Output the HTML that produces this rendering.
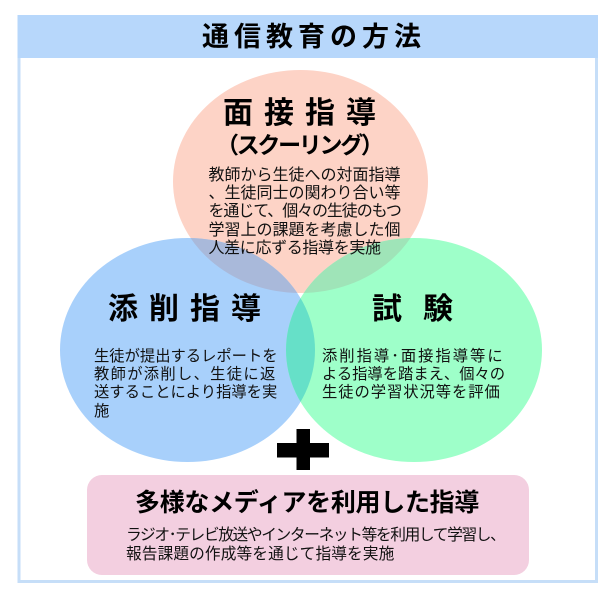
<!DOCTYPE html>
<html lang="ja">
<head>
<meta charset="utf-8">
<style>
html,body{margin:0;padding:0;background:#fff;}
#p{position:relative;width:610px;height:596px;overflow:hidden;background:#fff;font-family:"Liberation Sans","Noto Sans CJK JP",sans-serif;color:#111;filter:blur(0.3px);}
svg{position:absolute;left:0;top:0;}
.t{position:absolute;white-space:nowrap;line-height:1;}
.b{font-weight:700;color:#000;}
.s{font-size:16px;letter-spacing:0;}
.g{font-size:15.3px;}
.k{font-size:15.7px;}
</style>
</head>
<body>
<div id="p">
<svg width="610" height="596" viewBox="0 0 610 596">
<defs>
<clipPath id="ct"><ellipse cx="300.500" cy="181.500" rx="127.500" ry="111.500"/></clipPath>
<clipPath id="cb"><ellipse cx="187.500" cy="350" rx="127.500" ry="112"/></clipPath>
</defs>
<rect x="19" y="16.500" width="577.500" height="565" fill="#fff" stroke="#c6def8" stroke-width="3"/>
<rect x="17.500" y="15" width="580.500" height="43" fill="#b7d7fb"/>
<ellipse cx="300.500" cy="181.500" rx="127.500" ry="111.500" fill="#fdd3c6"/>
<ellipse cx="187.500" cy="350" rx="127.500" ry="112" fill="#a8d0fb"/>
<ellipse cx="414" cy="350" rx="128" ry="112" fill="#9effc9"/>
<ellipse cx="187.500" cy="350" rx="127.500" ry="112" fill="#a9b9da" clip-path="url(#ct)"/>
<ellipse cx="414" cy="350" rx="128" ry="112" fill="#9fe4b8" clip-path="url(#ct)"/>
<ellipse cx="414" cy="350" rx="128" ry="112" fill="#66e0c8" clip-path="url(#cb)"/>
<rect x="277" y="443" width="52" height="14.500" fill="#000"/>
<rect x="296.500" y="429" width="13.500" height="41" fill="#000"/>
<rect x="87" y="475" width="442" height="100" rx="15" ry="15" fill="#f3cfe0"/>
</svg>

<div class="t b" style="left:202px;top:24px;font-size:27px;letter-spacing:5px;">通信教育の方法</div>

<div class="t b" style="left:223px;top:99px;font-size:30px;letter-spacing:11px;">面接指導</div>
<div class="t b" style="left:216px;top:134px;font-size:23px;letter-spacing:-2.300px;">（スクーリング）</div>
<div class="t s" style="left:208.500px;top:168px;">教師から生徒への対面指導</div>
<div class="t s" style="left:208.500px;top:186px;">、生徒同士の関わり合い等</div>
<div class="t s" style="left:208.500px;top:204px;letter-spacing:-1.100px;">を通じて、個々の生徒のもつ</div>
<div class="t s" style="left:208.500px;top:223px;">学習上の課題を考慮した個</div>
<div class="t s" style="left:208.500px;top:241px;letter-spacing:-0.350px;">人差に応ずる指導を実施</div>

<div class="t b" style="left:108px;top:295px;font-size:30px;letter-spacing:11px;">添削指導</div>
<div class="t g" style="left:94px;top:349px;">生徒が提出するレポートを</div>
<div class="t g" style="left:94px;top:367px;letter-spacing:1.300px;">教師が添削し、生徒に返</div>
<div class="t g" style="left:94px;top:385px;">送することにより指導を実</div>
<div class="t g" style="left:94px;top:404px;">施</div>

<div class="t b" style="left:372px;top:295px;font-size:30px;letter-spacing:21px;">試験</div>
<div class="t g" style="left:322px;top:349px;letter-spacing:2px;">添削指導･面接指導等に</div>
<div class="t g" style="left:322px;top:367px;">よる指導を踏まえ、個々の</div>
<div class="t g" style="left:322px;top:385px;letter-spacing:0.950px;">生徒の学習状況等を評価</div>

<div class="t b" style="left:135px;top:491px;font-size:25px;letter-spacing:-0.300px;">多様なメディアを利用した指導</div>
<div class="t k" style="left:126px;top:528px;letter-spacing:-1.350px;">ラジオ･テレビ放送やインターネット等を利用して学習し、</div>
<div class="t k" style="left:126px;top:547px;letter-spacing:0.100px;">報告課題の作成等を通じて指導を実施</div>
</div>
</body>
</html>
